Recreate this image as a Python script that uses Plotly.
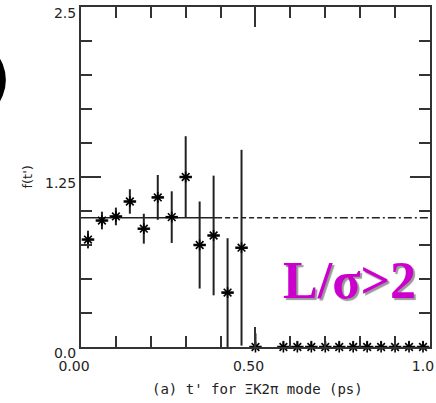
import plotly.graph_objects as go

# data
t_centres = [0.02, 0.06, 0.10, 0.14, 0.18, 0.22, 0.26, 0.30, 0.34, 0.38, 0.42, 0.46, 0.50,
             0.58, 0.62, 0.66, 0.70, 0.74, 0.78, 0.82, 0.86, 0.90, 0.94, 0.98]
f_values = [0.79, 0.93, 0.96, 1.07, 0.87, 1.10, 0.955, 1.25, 0.75, 0.82, 0.40, 0.73, 0.0,
            0, 0, 0, 0, 0, 0, 0, 0, 0, 0, 0]
f_errors = [0.065, 0.065, 0.065, 0.09, 0.11, 0.165, 0.19, 0.30, 0.32, 0.44, 0.40, 0.72, 0.10,
            0.045, 0.045, 0.045, 0.045, 0.045, 0.045, 0.045, 0.045, 0.045, 0.045, 0.045]
half_bin = 0.018

fit_level = 0.95
solid_part = [0.0, 0.39]
dashed_part = [0.39, 0.65]
dashdot_part = [0.65, 1.0]

x_tickvals = [0.0, 0.5, 1.0]
x_ticktext = ["0.00", "0.50", "1.0"]
y_tickvals = [0.0, 1.25, 2.5]
y_ticktext = ["0.0", "1.25", "2.5"]

fig = go.Figure()

for seg, dash in [(solid_part, "solid"), (dashed_part, "5px,3px"), (dashdot_part, "8px,3px,2px,3px")]:
    fig.add_trace(go.Scatter(
        x=seg, y=[fit_level, fit_level], mode="lines",
        line=dict(color="#222", width=1.5, dash=dash),
        showlegend=False, hoverinfo="skip"))

fig.add_trace(go.Scatter(
    x=t_centres, y=f_values, mode="markers",
    marker=dict(symbol="asterisk-open", size=9, color="black",
                line=dict(color="black", width=1.6)),
    error_y=dict(type="data", array=f_errors, color="#222", thickness=2, width=0),
    error_x=dict(type="constant", value=half_bin, color="#111", thickness=2.5, width=0),
    cliponaxis=False, showlegend=False))

font_ticks = dict(family="DejaVu Sans", size=14, color="#222")

fig.update_xaxes(
    range=[0, 1.0001], showgrid=False, zeroline=False,
    showline=True, linecolor="#333", linewidth=2, mirror="ticks",
    ticks="inside", ticklen=20, tickwidth=2, tickcolor="#333",
    tickvals=x_tickvals, ticktext=x_ticktext, tickfont=font_ticks,
    ticklabelshift=-7, ticklabelstandoff=5, ticklabeloverflow="allow",
    minor=dict(dtick=0.1, tick0=0, ticks="inside", ticklen=11, tickwidth=2, tickcolor="#333"),
)
fig.update_yaxes(
    range=[0, 2.5001], showgrid=False, zeroline=False,
    showline=True, linecolor="#333", linewidth=2, mirror="ticks",
    ticks="inside", ticklen=20, tickwidth=2, tickcolor="#333",
    tickvals=y_tickvals, ticktext=y_ticktext, tickfont=font_ticks,
    ticklabelshift=6, ticklabeloverflow="allow",
    minor=dict(dtick=0.25, tick0=0, ticks="inside", ticklen=11, tickwidth=2, tickcolor="#333"),
)

annotations = [
    dict(text="(a) t' for ΞK2π mode (ps)", xref="paper", yref="paper",
         x=0.507, y=-0.1235, xanchor="center", yanchor="middle", showarrow=False,
         font=dict(family="DejaVu Sans Mono", size=14, color="#222")),
    dict(text="f(t')", xref="paper", yref="paper", textangle=-90,
         x=-0.156, y=0.5, xanchor="center", yanchor="middle", showarrow=False,
         font=dict(family="DejaVu Sans", size=13, color="#222")),
    dict(text="<b>L/σ>2</b>", xref="paper", yref="paper", x=0.768, y=0.195,
         xanchor="center", yanchor="middle", showarrow=False,
         font=dict(family="Liberation Serif", size=52, color="#CC00CC",
                   shadow="2px 2px 1px #999999")),
]

fig.update_layout(
    width=436, height=403,
    margin=dict(l=81, r=2, t=7, b=56),
    paper_bgcolor="white", plot_bgcolor="white",
    annotations=annotations,
    shapes=[dict(type="circle", xref="paper", yref="paper",
                 x0=-0.448, x1=-0.2153, y0=0.665, y1=0.906,
                 fillcolor="black", line=dict(width=0))],
)

fig.write_html("out.html")
